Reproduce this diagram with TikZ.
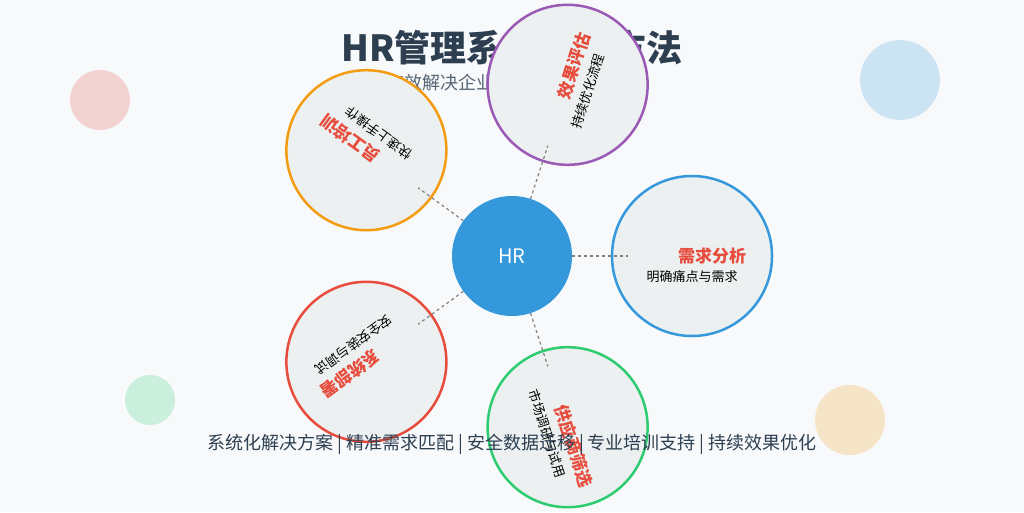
\documentclass[tikz,border=0pt]{standalone}
\usepackage{fontspec}
\setmainfont{Noto Sans CJK SC}
\usetikzlibrary{calc}
\definecolor{bgcol}{HTML}{F7F9FB}
\definecolor{ink}{HTML}{2C3E50}
\definecolor{hubcol}{HTML}{3498DB}
\definecolor{redcol}{HTML}{E74C3C}
\definecolor{purplecol}{HTML}{9B59B6}
\definecolor{orangecol}{HTML}{F39C12}
\definecolor{greencol}{HTML}{2ECC71}
\definecolor{fillcol}{HTML}{ECF0F1}
\tikzset{
  stage/.style={circle, draw=#1, line width=2.5pt, fill=fillcol, minimum size=160pt, inner sep=0pt},
  link/.style={draw=gray, dashed, line width=1.2pt},
  blob/.style={circle, fill=#1, opacity=0.22, inner sep=0pt}
}
\begin{document}
\begin{tikzpicture}[x=1pt,y=-1pt]
            \fill [bgcol] (0,0) rectangle (1024,512);
            \useasboundingbox (0,0) rectangle (1024,512);
            % decoration
            \node [blob=redcol, minimum size=60pt] (d1) at (100,100) {};
            \node [blob=hubcol, minimum size=80pt] (d2) at (900,80) {};
            \node [blob=greencol, minimum size=50pt] (d3) at (150,400) {};
            \node [blob=orangecol, minimum size=70pt] (d4) at (850,420) {};
            \node [text=ink, font=\fontsize{36}{38}\selectfont\bfseries] (title) at (512,48) {HR管理系统实施方法};
            \node [text=ink!80, font=\fontsize{18}{20}\selectfont] (subtitle) at (512,83) {有效解决企业人力资源管理难题};
            % stages
            \foreach \name/\ang/\col/\head/\sub in {
                need/0/hubcol/需求分析/明确痛点与需求,
                eval/72/purplecol/效果评估/持续优化流程,
                train/144/orangecol/员工培训/快速上手操作,
                deploy/216/redcol/系统部署/安全安装与调试,
                supply/288/greencol/供应商筛选/市场调研与试用} {
                \node [stage=\col] (\name) at ({512+180*cos(\ang)},{256-180*sin(\ang)}) {};
                \node [rotate=\ang, text=redcol, font=\fontsize{17}{18}\selectfont\bfseries]
                    (\name-h) at ($(\name)+({20*cos(\ang)},{-20*sin(\ang)})$) {\head};
                \node [rotate=\ang, font=\fontsize{13}{14}\selectfont]
                    (\name-s) at ($(\name)+({21*sin(\ang)},{21*cos(\ang)})$) {\sub};
                \coordinate (\name-e) at ({512+116*cos(\ang)},{256-116*sin(\ang)});
                \coordinate (\name-b) at ({512+60*cos(\ang)},{256-60*sin(\ang)});
                \draw [link] (\name-b) -- (\name-e);
            }
            \node [circle, fill=hubcol, minimum size=120pt, text=white, font=\fontsize{20}{22}\selectfont] (hub) at (512,256) {HR};
            \node [text=ink, font=\fontsize{18}{20}\selectfont] (foot) at (512,444) {系统化解决方案 | 精准需求匹配 | 安全数据迁移 | 专业培训支持 | 持续效果优化};
\end{tikzpicture}
\end{document}
